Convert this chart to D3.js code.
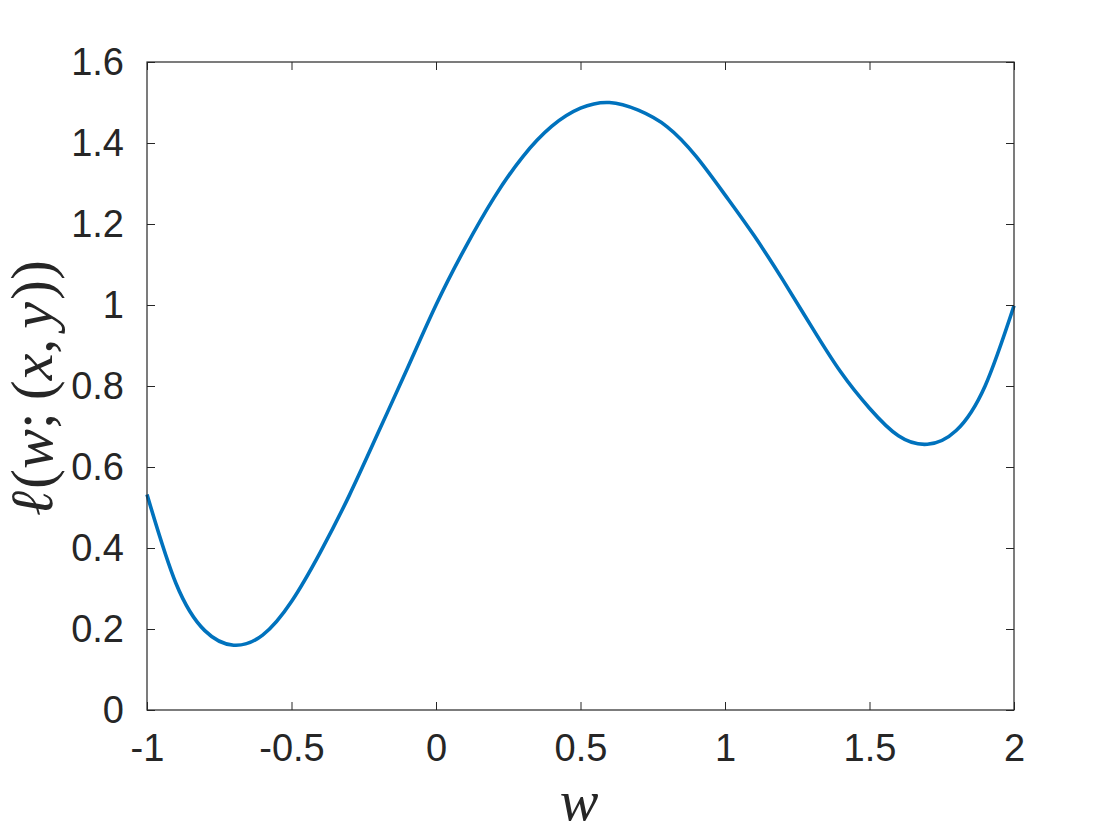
<!DOCTYPE html>
<html>
<head>
<meta charset="utf-8">
<script src="https://cdn.jsdelivr.net/npm/d3@7"></script>
<style>
  body { margin: 0; background: #fff; }
  svg { display: block; }
</style>
</head>
<body>
<div class="visHolder"></div>
<script>
var width = 1120,
    height = 840;

// values
var wValues = [-1.0, -0.9, -0.8, -0.7, -0.6, -0.5, -0.4, -0.3, -0.2, -0.1,
               0.0, 0.1, 0.2, 0.3, 0.4, 0.5, 0.6, 0.7, 0.8, 0.9,
               1.0, 1.1, 1.2, 1.3, 1.4, 1.5, 1.6, 1.7, 1.8, 1.9, 2.0];
var lossValues = [0.532, 0.313, 0.196, 0.16, 0.185, 0.268, 0.39, 0.53, 0.685, 0.842,
                  1.0, 1.14, 1.264, 1.366, 1.441, 1.486, 1.5, 1.481, 1.44, 1.367,
                  1.272, 1.172, 1.062, 0.946, 0.835, 0.745, 0.677, 0.656, 0.69, 0.80, 0.998];
var xTicks = [-1, -0.5, 0, 0.5, 1, 1.5, 2];
var yTicks = [0, 0.2, 0.4, 0.6, 0.8, 1, 1.2, 1.4, 1.6];

var padLeft = 147, padRight = 1014, padTop = 62, padBottom = 710;
var axisColor = '#262626';

var svg = d3.select('.visHolder')
  .append('svg')
  .attr('width', width)
  .attr('height', height);

var xScale = d3.scaleLinear().domain([-1, 2]).range([padLeft, padRight]);
var yScale = d3.scaleLinear().domain([0, 1.6]).range([padBottom, padTop]);

var dataset = wValues.map(function (w, i) { return [w, lossValues[i]]; });

// curve
var line = d3.line()
  .x(function (d) { return xScale(d[0]); })
  .y(function (d) { return yScale(d[1]); })
  .curve(d3.curveNatural);

svg.append('path')
  .datum(dataset)
  .attr('d', line)
  .attr('fill', 'none')
  .attr('stroke', '#0072BD')
  .attr('stroke-width', 3.6)
  .attr('stroke-linejoin', 'round');

// axes: ticks inward on all four sides
function styleAxis(g) {
  g.select('.domain').remove();
  g.selectAll('.tick line').attr('stroke', axisColor).attr('stroke-width', 1);
  g.selectAll('.tick text')
    .attr('fill', axisColor)
    .style('font-family', '"Liberation Sans", Arial, sans-serif')
    .style('font-size', '38px');
}

var fmt = function (d) { return String(d); };

svg.append('g')
  .attr('id', 'x-axis')
  .attr('transform', 'translate(0,' + padBottom + ')')
  .call(d3.axisBottom(xScale).tickValues(xTicks).tickFormat(fmt).tickSizeInner(-8).tickPadding(24))
  .call(styleAxis);

svg.append('g')
  .attr('transform', 'translate(0,' + padTop + ')')
  .call(d3.axisTop(xScale).tickValues(xTicks).tickFormat('').tickSizeInner(-8))
  .call(styleAxis);

svg.append('g')
  .attr('id', 'y-axis')
  .attr('transform', 'translate(' + padLeft + ',0)')
  .call(d3.axisLeft(yScale).tickValues(yTicks).tickFormat(fmt).tickSizeInner(-8).tickPadding(23))
  .call(styleAxis);

svg.append('g')
  .attr('transform', 'translate(' + padRight + ',0)')
  .call(d3.axisRight(yScale).tickValues(yTicks).tickFormat('').tickSizeInner(-8))
  .call(styleAxis);

// box
svg.append('rect')
  .attr('x', padLeft)
  .attr('y', padTop)
  .attr('width', padRight - padLeft)
  .attr('height', padBottom - padTop)
  .attr('fill', 'none')
  .attr('stroke', axisColor)
  .attr('stroke-width', 1.2);

// x label
svg.append('text')
  .attr('x', 579)
  .attr('y', 820)
  .attr('text-anchor', 'middle')
  .style('font-family', '"Liberation Serif", "DejaVu Serif", serif')
  .style('font-style', 'italic')
  .style('font-size', '58px')
  .attr('fill', axisColor)
  .text('w');

// y label  ℓ(w;(x,y))
var ylab = svg.append('text')
  .attr('transform', 'translate(52,388) rotate(-90)')
  .attr('text-anchor', 'middle')
  .style('font-family', '"Liberation Serif", "DejaVu Serif", serif')
  .style('font-size', '60px')
  .attr('fill', axisColor);

var parts = [
  ['ℓ', 'italic', 0], ['(', 'normal', 2], ['w', 'italic', 0], [';', 'normal', 0],
  ['(', 'normal', 12], ['x', 'italic', 0], [',', 'normal', 0], ['y', 'italic', 10],
  [')', 'normal', 2], [')', 'normal', 0]
];
parts.forEach(function (p) {
  ylab.append('tspan')
    .style('font-style', p[1])
    .attr('dx', p[2])
    .text(p[0]);
});
</script>
</body>
</html>
